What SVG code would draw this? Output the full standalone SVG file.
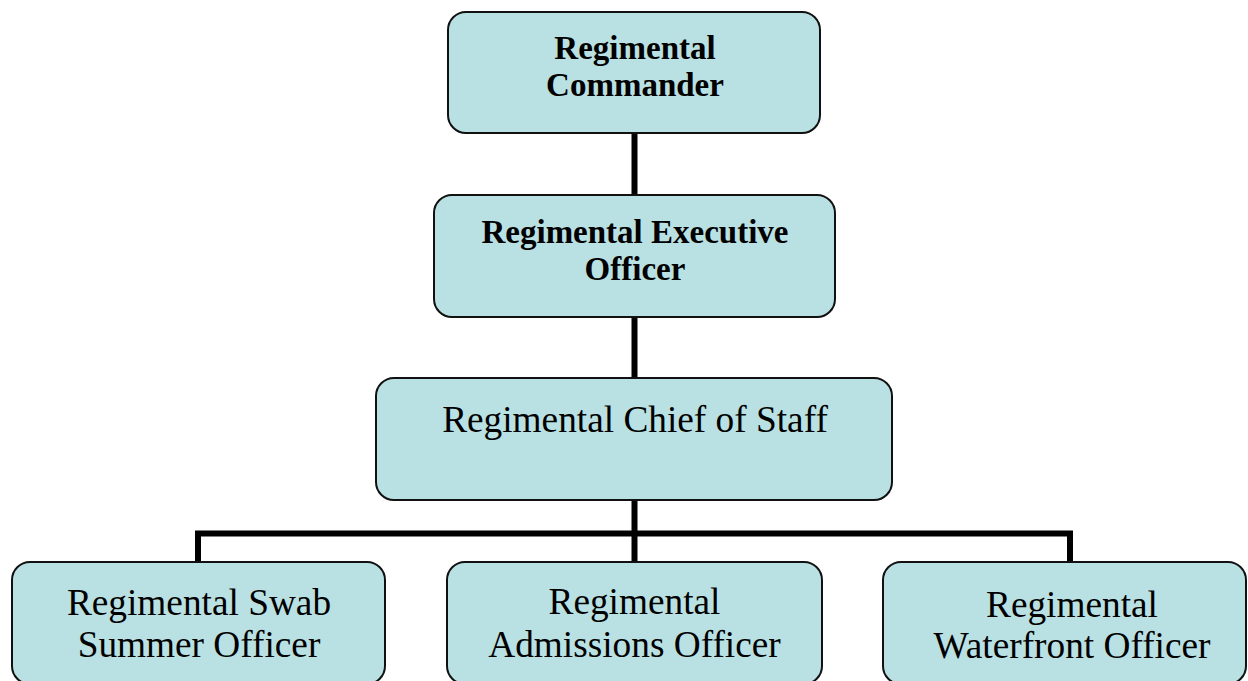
<svg xmlns="http://www.w3.org/2000/svg" width="1248" height="681" viewBox="0 0 1248 681">
<style>
.box{fill:#b9e0e3;stroke:#111;stroke-width:2}
.conn{fill:none;stroke:#000;stroke-width:6}
.b{font-family:"Liberation Serif","Times New Roman",serif;font-weight:bold;font-size:33px;fill:#000;text-anchor:middle}
.r{font-family:"Liberation Serif","Times New Roman",serif;font-size:37.3px;fill:#000;text-anchor:middle}
</style>
<rect width="1248" height="681" fill="#fff"/>
<g id="connectors">
<line class="conn" x1="634.5" y1="133" x2="634.5" y2="195"/>
<line class="conn" x1="634.5" y1="317" x2="634.5" y2="378"/>
<line class="conn" x1="634.5" y1="500" x2="634.5" y2="562"/>
<path class="conn" d="M198,562 V533.5 H1070 V562"/>
</g>
<g id="commander">
<rect class="box" x="448" y="12" width="372" height="121" rx="18"/>
<text class="b" x="635" y="59">Regimental</text>
<text class="b" x="635" y="96">Commander</text>
</g>
<g id="executive">
<rect class="box" x="434" y="195" width="401" height="122" rx="18"/>
<text class="b" x="635" y="243">Regimental Executive</text>
<text class="b" x="635" y="280">Officer</text>
</g>
<g id="chief">
<rect class="box" x="376" y="378" width="516" height="122" rx="18"/>
<text class="r" x="635" y="432">Regimental Chief of Staff</text>
</g>
<g id="swab">
<rect class="box" x="12" y="562" width="373" height="122" rx="18"/>
<text class="r" x="199" y="615">Regimental Swab</text>
<text class="r" x="199" y="657">Summer Officer</text>
</g>
<g id="admissions">
<rect class="box" x="447" y="562" width="375" height="122" rx="18"/>
<text class="r" x="634.5" y="614">Regimental</text>
<text class="r" x="634.5" y="657">Admissions Officer</text>
</g>
<g id="waterfront">
<rect class="box" x="883" y="562" width="363" height="122" rx="18"/>
<text class="r" x="1072" y="617">Regimental</text>
<text class="r" x="1072" y="658">Waterfront Officer</text>
</g>
</svg>
